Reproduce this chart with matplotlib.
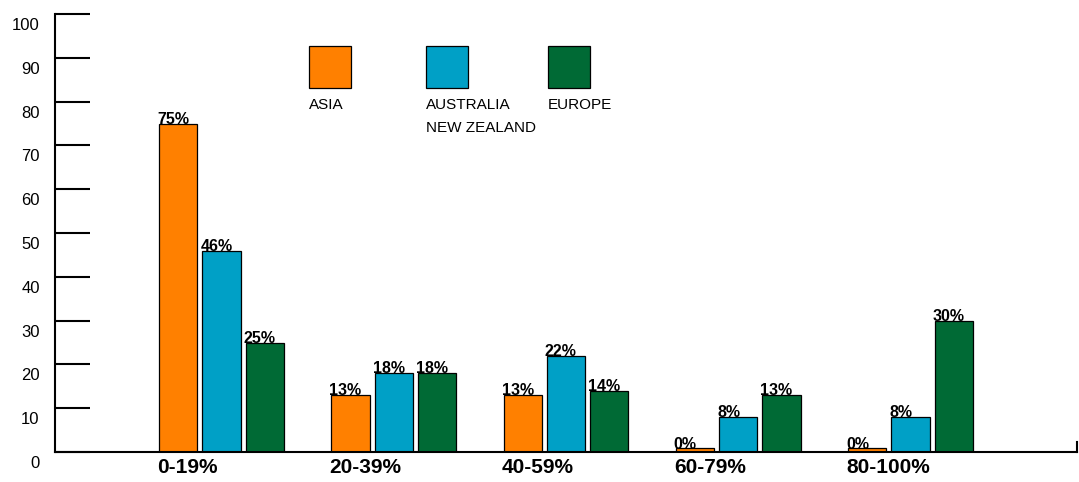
import numpy as np
import matplotlib.pyplot as plt
from matplotlib.patches import Rectangle
from matplotlib.transforms import ScaledTranslation

# share of respondents per band, by region
bands = ['0-19%', '20-39%', '40-59%', '60-79%', '80-100%']
asia = [75, 13, 13, 0, 0]
australia_nz = [46, 18, 22, 8, 8]
europe = [25, 18, 14, 13, 30]

series_names = ['ASIA', 'AUSTRALIA\nNEW ZEALAND', 'EUROPE']
colors = ['#FF8000', '#00A0C6', '#006A35']

narrow = ['Liberation Sans Narrow', 'Liberation Sans', 'DejaVu Sans']
plt.rcParams['font.family'] = narrow

fig = plt.figure(figsize=(10.79, 4.82), dpi=100)
ax = fig.add_axes([55 / 1079, 30 / 482, 1022 / 1079, 438 / 482])

x = np.arange(len(bands))
width = 0.222
step = 0.251
min_stub = 0.8  # keep zero bars visible as a thin sliver

for k, (vals, col) in enumerate(zip([asia, australia_nz, europe], colors)):
    xs = x + (k - 1) * step
    heights = np.maximum(vals, min_stub)
    ax.bar(xs, heights, width=width, color=col, edgecolor='black',
           linewidth=0.9, zorder=2)
    for xi, h, v in zip(xs, heights, vals):
        ax.text(xi - width / 2 - 0.012, h - 0.7, f'{v}%', ha='left', va='bottom',
                fontsize=11.5, fontweight='bold', family=narrow)

ax.set_xlim(-0.967, 4.967)
ax.set_ylim(0, 100)
ax.set_yticks(range(0, 101, 10))
ax.tick_params(axis='y', direction='in', length=25, width=1.5, pad=11,
               labelsize=12)
# tick labels sit a little below their tick marks
shift = ScaledTranslation(0, -10 / 100, fig.dpi_scale_trans)
for lbl in ax.get_yticklabels():
    lbl.set_transform(lbl.get_transform() + shift)

ax.set_xticks(x - step - width / 2 - 0.012)
ax.set_xticklabels(bands, ha='left', fontsize=15, fontweight='bold')
ax.tick_params(axis='x', length=0, pad=4)

for side in ['top', 'right']:
    ax.spines[side].set_visible(False)
for side in ['left', 'bottom']:
    ax.spines[side].set_linewidth(1.5)

# little end tick on the right of the baseline
ax.plot([4.965, 4.965], [0, 2.3], color='black', lw=1.5, clip_on=False)

# legend: swatches with labels underneath
legend_x = [309, 426, 548]
for lx, name, col in zip(legend_x, series_names, colors):
    fig.patches.append(Rectangle((lx / 1079, (482 - 88) / 482), 42 / 1079,
                                 42 / 482, transform=fig.transFigure,
                                 facecolor=col, edgecolor='black', lw=0.9))
    fig.text(lx / 1079, (482 - 98) / 482, name, ha='left', va='top',
             fontsize=11, linespacing=1.8)

fig.savefig('out.png', dpi=100)
